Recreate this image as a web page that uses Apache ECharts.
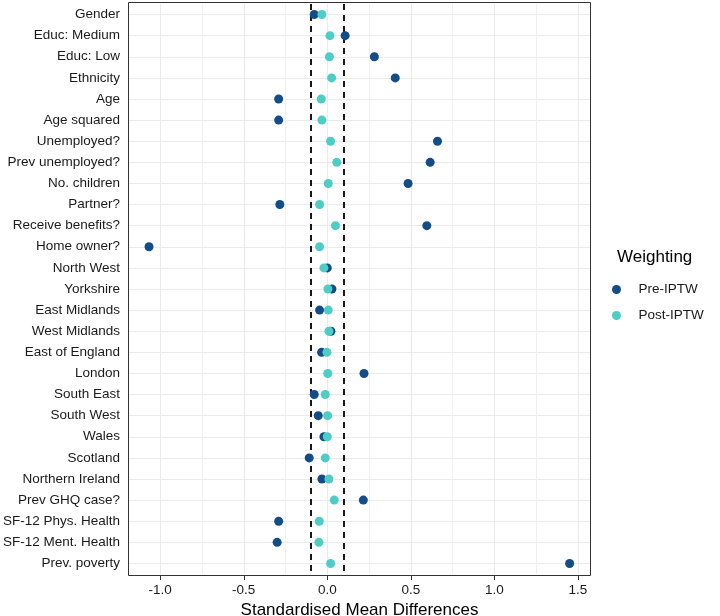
<!DOCTYPE html>
<html><head><meta charset="utf-8">
<script src="https://cdn.jsdelivr.net/npm/echarts@6/dist/echarts.min.js"></script>
<style>html,body{margin:0;padding:0;background:#fff}#c{width:720px;height:616px}</style>
</head><body><div id="c"></div>
<script>
const categories = ['Gender','Educ: Medium','Educ: Low','Ethnicity','Age','Age squared','Unemployed?','Prev unemployed?','No. children','Partner?','Receive benefits?','Home owner?','North West','Yorkshire','East Midlands','West Midlands','East of England','London','South East','South West','Wales','Scotland','Northern Ireland','Prev GHQ case?','SF-12 Phys. Health','SF-12 Ment. Health','Prev. poverty'];
const preIPTW = [-0.078,0.107,0.282,0.407,-0.291,-0.291,0.66,0.616,0.484,-0.284,0.596,-1.067,0.0,0.028,-0.046,0.022,-0.034,0.22,-0.078,-0.054,-0.020,-0.108,-0.032,0.216,-0.291,-0.30,1.451];
const postIPTW = [-0.032,0.016,0.013,0.026,-0.036,-0.032,0.02,0.057,0.006,-0.046,0.049,-0.046,-0.020,0.004,0.006,0.01,-0.002,0.003,-0.012,0.002,0.0,-0.012,0.01,0.042,-0.048,-0.05,0.02];
const xTicks = [-1,-0.5,0,0.5,1,1.5];
const xMinor = [-0.75,-0.25,0.25,0.75,1.25];
const thresholds = [-0.1,0.1];
const xRange = [-1.193,1.579];
const seriesNames = ['Pre-IPTW','Post-IPTW'];

const PRE = '#134C87';
const POST = '#4ECDC7';
const font = '"Liberation Sans", Arial, sans-serif';
const chart = echarts.init(document.getElementById('c'), null, {renderer:'canvas'});
const gridLine = {color:'#ebebeb', width:1, type:'solid'};
const option = {
  animation:false,
  textStyle:{fontFamily:font},
  title:{text:'Weighting', left:617, top:249, padding:0,
    textStyle:{fontSize:17, fontWeight:'normal', color:'#000', fontFamily:font}},
  legend:{orient:'vertical', left:612, top:281, padding:0, itemWidth:34, itemHeight:9, itemGap:9,
    icon:'circle', data:seriesNames,
    textStyle:{fontSize:13.5, color:'#1a1a1a', lineHeight:17, fontFamily:font}},
  grid:{left:128, right:129, top:4, bottom:42, containLabel:false, outerBoundsMode:'none'},
  xAxis:{type:'value', min:xRange[0], max:xRange[1], offset:2,
    axisLine:{show:false}, splitLine:{show:false},
    axisTick:{show:true, length:4, lineStyle:{color:'#333'}, customValues:xTicks},
    axisLabel:{customValues:xTicks, formatter:v=>Number(v).toFixed(1), color:'#1a1a1a', fontSize:13.5, margin:7, fontFamily:font},
    name:'Standardised Mean Differences', nameLocation:'middle', nameGap:23,
    nameTextStyle:{fontSize:17, color:'#000', fontFamily:font}},
  yAxis:{type:'category', data:categories, inverse:true, boundaryGap:true,
    axisLine:{show:false}, splitLine:{show:false},
    axisTick:{show:true, alignWithLabel:true, length:4, interval:0, lineStyle:{color:'#333'}},
    axisLabel:{interval:0, color:'#1a1a1a', fontSize:13.5, margin:8, fontFamily:font}},
  graphic:[{type:'rect', silent:true, z:100,
    shape:{x:128.5, y:2.5, width:462, height:573},
    style:{fill:null, stroke:'#333', lineWidth:1}}],
  series:[
    {type:'scatter', name:'grid', data:[], z:1, silent:true,
     markLine:{silent:true, z:1, symbol:'none', label:{show:false}, animation:false,
       data:[
         ...categories.map((c,i)=>({yAxis:i, lineStyle:gridLine})),
         ...xTicks.map(v=>({xAxis:v, lineStyle:gridLine})),
         ...xMinor.map(v=>({xAxis:v, lineStyle:{color:'#f0f0f0', width:1, type:'solid'}}))
       ]}},
    {type:'scatter', name:'thr', data:[], z:2, silent:true,
     markLine:{silent:true, z:2, symbol:'none', label:{show:false}, animation:false,
       data: thresholds.map(v=>({xAxis:v, lineStyle:{color:'#000', width:1.8, type:[6,5]}}))}},
    {type:'scatter', name:seriesNames[0], data:preIPTW.map((v,i)=>[v,i]), symbol:'circle', symbolSize:9,
     itemStyle:{color:PRE, opacity:1}, z:3},
    {type:'scatter', name:seriesNames[1], data:postIPTW.map((v,i)=>[v,i]), symbol:'circle', symbolSize:9,
     itemStyle:{color:POST, opacity:1}, z:4}
  ]
};
chart.setOption(option);
</script>
</body></html>
